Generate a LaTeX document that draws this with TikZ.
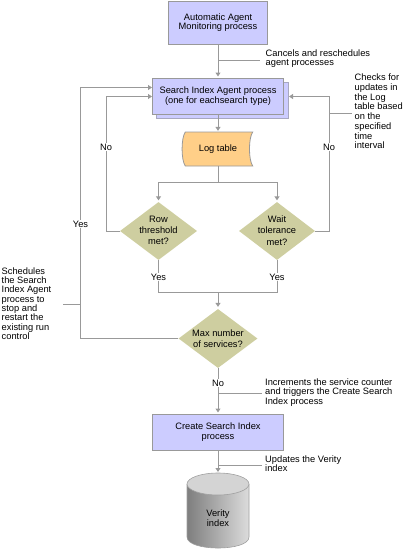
\documentclass[tikz,border=0pt]{standalone}
\usepackage{fontspec}
\setmainfont{Liberation Sans}
\usetikzlibrary{shapes.geometric,arrows.meta}
\definecolor{procfill}{HTML}{CCCCFF}
\definecolor{boxline}{HTML}{999999}
\definecolor{backline}{HTML}{A8A8C0}
\definecolor{decfill}{HTML}{CECEA0}
\definecolor{logfill}{HTML}{FFCF88}
\definecolor{linec}{HTML}{999999}
\definecolor{cylL}{HTML}{7E7E7E}
\definecolor{cylR}{HTML}{DCDCDC}
\definecolor{cyltop}{HTML}{D4D4D4}
\definecolor{cylline}{HTML}{A0A0A0}
\begin{document}
\begin{tikzpicture}[x=1pt,y=-1pt,
  font=\fontsize{9.3}{9.3}\selectfont,
  ln/.style={draw=linec, line width=1pt},
  arr/.style={ln, -{Triangle[width=5pt,length=4pt]}, shorten >=1pt},
  proc/.style={rectangle, draw=boxline, fill=procfill, line width=1pt, inner sep=0},
  dec/.style={diamond, fill=decfill, draw=none, inner sep=0},
  dtext/.style={align=center, inner sep=0, font=\fontsize{9.3}{11.3}\selectfont},
  lbl/.style={fill=white, inner sep=1pt},
  note/.style={align=left, inner sep=0, anchor=west}]
\useasboundingbox (0,0) rectangle (409,549);

% boxes
\node[proc, minimum width=99pt, minimum height=43pt, align=center,
      font=\fontsize{9.3}{9.5}\selectfont] (aamp) at (218,22.5) {Automatic Agent\\Monitoring process};
\node[proc, draw=backline, minimum width=132pt, minimum height=36pt] (siapb) at (222.5,100) {};
\node[proc, minimum width=131pt, minimum height=36pt, align=center,
      font=\fontsize{9.3}{9.7}\selectfont] (siap) at (218,96) {Search Index Agent process\\(one for eachsearch type)};

% log table (stored data shape)
\path[fill=logfill, draw=boxline, line width=0.8pt]
  (185.3,132) .. controls (181,138) and (181,160) .. (185.3,166)
  -- (252.7,166) .. controls (248.4,160) and (248.4,138) .. (252.7,132) -- cycle;
\node[minimum width=67pt, minimum height=34pt, inner sep=0] (log) at (218,149) {Log table};

% decisions
\node[dec, minimum width=77pt, minimum height=58pt] (row) at (158.5,231) {};
\node[dtext] (rowt) at (158.5,230.5) {Row\\threshold\\met?};
\node[dec, minimum width=76pt, minimum height=58pt] (wait) at (277,231) {};
\node[dtext] (waitt) at (277,230.5) {Wait\\tolerance\\met?};
\node[dec, minimum width=79pt, minimum height=59pt] (max) at (218,338.5) {};
\node[dtext, font=\fontsize{9.3}{11.6}\selectfont] (maxt) at (218,338.5) {Max number\\of services?};

\node[proc, minimum width=131pt, minimum height=36pt, align=center,
      font=\fontsize{9.3}{10}\selectfont] (csip) at (218,432) {Create Search Index\\process};

% cylinder
\shade[left color=cylL, right color=cylR]
  (187,484) -- (187,537) .. controls (187,551.7) and (249,551.7) .. (249,537) -- (249,484) -- cycle;
\draw[cylline, line width=0.6pt]
  (187,484) -- (187,537) .. controls (187,551.7) and (249,551.7) .. (249,537) -- (249,484);
\draw[cylline, fill=cyltop, line width=0.6pt] (218,484) ellipse [x radius=31pt, y radius=11pt];
\coordinate (vtop) at (218,473);
\node[align=center, inner sep=0, font=\fontsize{9.3}{10.6}\selectfont] (verity) at (218,518) {Verity\\index};

% connectors
\draw[arr] (aamp.south) -- (siap.north);
\coordinate (k1) at (218,60);
\coordinate (k1e) at (260,60);
\draw[ln] (k1) -- (k1e);
\node[note, font=\fontsize{9.3}{8.9}\selectfont] (n1) at (265.5,58.5) {Cancels and reschedules\\agent processes};

\draw[arr] (siap.south) -- (log.north);
\coordinate (sp1) at (218,182);
\draw[ln] (log.south) -- (sp1);
\draw[arr, shorten >=1.5pt] (sp1) -| (row.north);
\draw[arr, shorten >=1.5pt] (sp1) -| (wait.north);

\coordinate (nl) at (106,96.5);
\draw[arr, shorten >=0pt] (row.west) -| (nl) -- (nl -| siap.west);
\coordinate (nr) at (329,96.5);
\draw[arr, shorten >=0pt] (wait.east) -| (nr) -- (nr -| siapb.east);
\node[lbl] (no1) at (106,147) {No};
\node[lbl] (no2) at (329,147) {No};
\coordinate (k2) at (329,113);
\coordinate (k2e) at (352,113);
\draw[ln] (k2) -- (k2e);
\node[note, font=\fontsize{9.3}{9.7}\selectfont] (n2) at (354.5,111.5)
  {Checks for\\updates in\\the Log\\table based\\on the\\specified\\time\\interval};

\coordinate (jn) at (218,292);
\draw[ln] (row.south) |- (jn);
\draw[ln] (wait.south) |- (jn);
\draw[arr, shorten >=2pt] (jn) -- (max.north);
\node[lbl] (y1) at (158.5,277) {Yes};
\node[lbl] (y2) at (277,277) {Yes};

\coordinate (yl) at (80.5,87.5);
\draw[arr, shorten >=0pt] (max.west) -| (yl) -- (yl -| siap.west);
\node[lbl] (y3) at (80.5,224) {Yes};
\coordinate (k3) at (80.5,304);
\coordinate (k3e) at (63,304);
\draw[ln] (k3) -- (k3e);
\node[note, font=\fontsize{9.3}{9.33}\selectfont] (n3) at (1.5,303.5)
  {Schedules\\the Search\\Index Agent\\process to\\stop and\\restart the\\existing run\\control};

\draw[arr] (max.south) -- (csip.north);
\node[lbl] (no3) at (218,383) {No};
\coordinate (k4) at (218,393.5);
\coordinate (k4e) at (262,393.5);
\draw[ln] (k4) -- (k4e);
\node[note, font=\fontsize{9.3}{9.2}\selectfont] (n4) at (265,392.5)
  {Increments the service counter\\and triggers the Create Search\\Index process};

\draw[arr] (csip.south) -- (vtop);
\coordinate (k5) at (218,465);
\coordinate (k5e) at (262,465);
\draw[ln] (k5) -- (k5e);
\node[note, font=\fontsize{9.3}{8.9}\selectfont] (n5) at (265,463.5) {Updates the Verity\\index};
\end{tikzpicture}
\end{document}
